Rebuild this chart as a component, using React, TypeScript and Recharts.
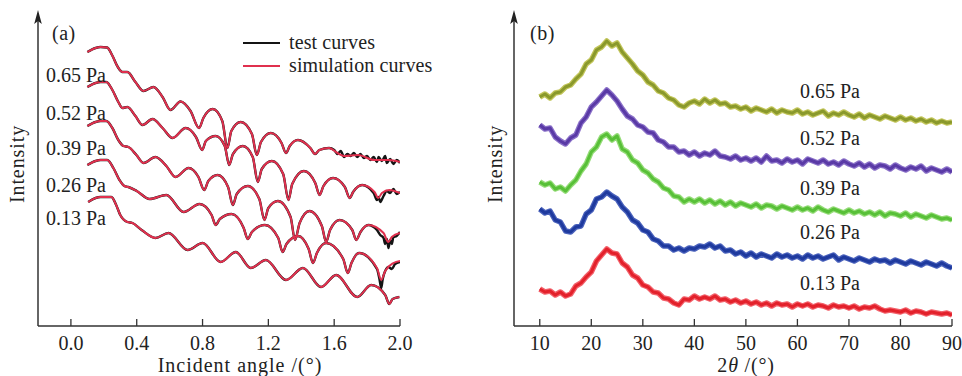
import React from 'react';
import { LineChart, Line, XAxis, YAxis, Legend } from 'recharts';

type Pt = [number, number];

const FONT = "'Liberation Serif', 'Times New Roman', serif";

const pressures = ['0.65 Pa', '0.52 Pa', '0.39 Pa', '0.26 Pa', '0.13 Pa'];
const xrrTicks = [0, 0.4, 0.8, 1.2, 1.6, 2.0];
const xrdTicks = [10, 20, 30, 40, 50, 60, 70, 80, 90];

// (a) simulated XRR curves: [incident angle (deg), intensity (a.u., offset)]
const sim065: Pt[] = [
  [0.1, 274], [0.15, 278], [0.18, 279], [0.22, 278.5], [0.25, 271], [0.285, 259], [0.313, 254], [0.343, 254],
  [0.392, 244], [0.441, 235], [0.502, 239], [0.557, 229], [0.605, 216], [0.666, 224.5], [0.727, 215], [0.779, 198],
  [0.805, 208], [0.862, 217], [0.92, 205], [0.951, 178], [0.975, 195], [1.032, 204], [1.1, 192], [1.13, 171],
  [1.155, 184], [1.215, 193], [1.28, 183], [1.307, 173], [1.33, 180], [1.38, 186], [1.455, 178], [1.484, 172],
  [1.51, 176], [1.569, 178], [1.62, 173], [1.66, 170], [1.746, 171], [1.843, 166], [1.93, 166], [2.0, 164],
];
const sim052: Pt[] = [
  [0.1, 239], [0.15, 243], [0.18, 244], [0.215, 244], [0.252, 236], [0.288, 224], [0.313, 218], [0.343, 219],
  [0.392, 210], [0.435, 201], [0.496, 207], [0.557, 198], [0.618, 188], [0.697, 198], [0.76, 189], [0.798, 176],
  [0.82, 185], [0.88, 190], [0.935, 180], [0.962, 161], [0.985, 172], [1.045, 180], [1.105, 169], [1.136, 144],
  [1.16, 157], [1.221, 165], [1.29, 152], [1.322, 126], [1.345, 142], [1.416, 155], [1.485, 143], [1.511, 131],
  [1.535, 140], [1.593, 148], [1.665, 139], [1.694, 128], [1.715, 134], [1.77, 141], [1.845, 134], [1.868, 128],
  [1.89, 133], [1.935, 136], [2.0, 133],
];
const sim039: Pt[] = [
  [0.1, 200], [0.15, 204], [0.18, 205], [0.215, 205], [0.252, 198], [0.288, 186], [0.319, 180], [0.349, 179],
  [0.398, 171], [0.441, 163], [0.514, 169], [0.58, 160], [0.636, 149], [0.715, 158], [0.775, 149], [0.81, 136],
  [0.835, 145], [0.892, 151], [0.955, 139], [0.984, 121], [1.008, 132], [1.075, 140], [1.145, 127], [1.176, 106],
  [1.2, 118], [1.258, 125], [1.335, 109], [1.362, 86], [1.39, 103], [1.45, 115], [1.525, 100], [1.551, 84],
  [1.575, 96], [1.633, 106], [1.71, 96], [1.734, 86], [1.76, 94], [1.807, 101], [1.9, 93], [1.929, 84],
  [1.95, 89], [2.0, 93],
];
const sim026: Pt[] = [
  [0.1, 161], [0.15, 165], [0.18, 166], [0.221, 166], [0.258, 158], [0.295, 146], [0.325, 140], [0.349, 139],
  [0.4, 135], [0.478, 127], [0.58, 131], [0.685, 114], [0.782, 122], [0.855, 111], [0.88, 101], [0.905, 107],
  [0.977, 112], [1.05, 98], [1.075, 87], [1.1, 94], [1.179, 101], [1.26, 88], [1.287, 74], [1.31, 82],
  [1.38, 90], [1.445, 77], [1.471, 63], [1.495, 73], [1.551, 83], [1.655, 67], [1.683, 53], [1.705, 63],
  [1.752, 73], [1.86, 58], [1.886, 46], [1.91, 55], [1.96, 63], [2.0, 65],
];
const sim013: Pt[] = [
  [0.105, 124], [0.15, 128], [0.18, 129], [0.246, 129], [0.275, 121], [0.3, 111], [0.343, 104], [0.374, 103],
  [0.43, 96], [0.514, 88], [0.593, 93], [0.709, 76], [0.801, 83], [0.91, 64], [1.002, 74], [1.093, 58],
  [1.185, 66], [1.307, 46], [1.41, 58], [1.52, 39], [1.612, 51], [1.74, 29], [1.825, 41], [1.91, 31],
  [1.935, 22], [1.955, 27], [1.996, 29],
];

// (a) measured points where the test curves show noise
const tail065: Pt[] = [
  [1.6, 176], [1.62, 172], [1.64, 175], [1.66, 169], [1.68, 172], [1.7, 170], [1.72, 173], [1.74, 169],
  [1.76, 172], [1.78, 168], [1.8, 170], [1.82, 166], [1.84, 169], [1.86, 164], [1.87, 169], [1.89, 165],
  [1.91, 170], [1.92, 163], [1.94, 167], [1.96, 162], [1.98, 166], [2.0, 163],
];
const tail052: Pt[] = [
  [1.84, 133], [1.86, 126], [1.87, 129], [1.88, 124], [1.9, 130], [1.92, 135], [1.94, 133], [1.96, 137],
  [1.98, 132], [2.0, 134],
];
const tail039: Pt[] = [
  [1.86, 96], [1.88, 91], [1.9, 88], [1.91, 82], [1.92, 87], [1.93, 78], [1.94, 86], [1.95, 82],
  [1.96, 89], [1.98, 90], [2.0, 94],
];
const tail026: Pt[] = [
  [1.86, 57], [1.875, 47], [1.886, 38], [1.895, 47], [1.91, 55], [1.93, 59], [1.95, 57], [1.97, 62], [2.0, 64],
];

// (b) XRD patterns, 2theta in degrees
const twoTheta = [
  10, 11, 12, 13, 14, 15, 16, 17, 18, 19, 20, 21, 22, 23, 24, 25, 26, 27, 28, 29,
  30, 31, 32, 33, 34, 35, 36, 37, 38, 39, 40, 41, 42, 43, 44, 45, 46, 47, 48, 49,
  50, 51, 52, 53, 54, 55, 56, 57, 58, 59, 60, 61, 62, 63, 64, 65, 66, 67, 68, 69,
  70, 71, 72, 73, 74, 75, 76, 77, 78, 79, 80, 81, 82, 83, 84, 85, 86, 87, 88, 89, 90,
];
const xrd065 = [
  229, 232, 228, 233, 234, 239, 241, 247, 252, 262, 266, 276, 279, 285, 280, 283, 274, 268, 262, 255,
  251, 244, 241, 235, 233, 228, 226, 221, 219, 223, 225, 222, 227, 223, 226, 222, 223, 219, 220, 217,
  219, 215, 218, 216, 214, 217, 213, 216, 214, 213, 216, 212, 214, 211, 213, 215, 210, 213, 211, 214,
  211, 209, 212, 208, 211, 209, 207, 210, 208, 206, 209, 206, 208, 205, 207, 204, 206, 203, 205, 203, 204,
];
const xrd052 = [
  201, 197, 198, 189, 185, 182, 188, 191, 203, 209, 219, 224, 230, 236, 231, 225, 217, 210, 207, 201,
  199, 194, 193, 186, 184, 179, 179, 174, 175, 171, 174, 170, 173, 171, 175, 170, 169, 167, 170, 166,
  168, 165, 168, 164, 170, 165, 166, 163, 167, 164, 166, 162, 167, 165, 163, 166, 162, 164, 161, 165,
  162, 160, 163, 159, 162, 158, 161, 160, 157, 161, 158, 156, 159, 157, 160, 155, 158, 156, 154, 157, 154,
];
const xrd039 = [
  144, 141, 143, 137, 139, 135, 141, 146, 155, 162, 174, 179, 189, 192, 186, 190, 177, 174, 166, 163,
  156, 153, 147, 144, 138, 136, 130, 129, 124, 127, 124, 127, 123, 126, 122, 125, 121, 124, 120, 123,
  121, 119, 122, 118, 121, 120, 117, 120, 118, 116, 119, 116, 118, 115, 119, 116, 114, 117, 115, 113,
  116, 113, 115, 112, 114, 111, 114, 110, 113, 112, 110, 113, 109, 112, 110, 108, 111, 109, 107, 108, 106,
];
const xrd026 = [
  117, 113, 115, 106, 104, 95, 94, 99, 100, 112, 116, 127, 129, 134, 130, 127, 119, 114, 106, 103,
  96, 94, 87, 85, 80, 80, 76, 78, 75, 78, 77, 80, 79, 82, 78, 80, 75, 76, 72, 74,
  70, 73, 69, 72, 70, 68, 72, 69, 71, 68, 70, 67, 71, 68, 70, 67, 69, 71, 66, 69,
  67, 65, 68, 66, 64, 67, 65, 66, 63, 66, 64, 62, 65, 63, 61, 64, 62, 60, 63, 60, 58,
];
const xrd013 = [
  37, 34, 35, 31, 34, 30, 32, 40, 43, 49, 54, 65, 71, 77, 73, 72, 63, 59, 51, 48,
  41, 39, 34, 33, 28, 27, 23, 21, 27, 26, 30, 27, 29, 27, 30, 26, 27, 24, 26, 23,
  25, 22, 24, 21, 23, 20, 23, 21, 22, 19, 22, 20, 22, 19, 21, 20, 18, 21, 19, 20,
  18, 20, 17, 19, 18, 20, 17, 15, 16, 15, 14, 16, 13, 15, 14, 12, 14, 13, 12, 13, 11,
];

const xrdColors = ['#8a992c', '#5a3aa6', '#58c038', '#1f3a9e', '#e3212b'];
const xrdHalo = ['#c2c55a', '#8a70c8', '#95dc78', '#4a62bc', '#f2606a'];
const xrdKeys = ['p065', 'p052', 'p039', 'p026', 'p013'];

const xrdRows = twoTheta.map((t, k) => ({
  t,
  p065: xrd065[k],
  p052: xrd052[k],
  p039: xrd039[k],
  p026: xrd026[k],
  p013: xrd013[k],
}));

const toRows = (pts: Pt[]) => pts.map(([a, i]) => ({ a, i }));
const withTail = (sim: Pt[], tail: Pt[]) => [...sim.filter((p) => p[0] < tail[0][0]), ...tail];

const xrrCurves = [
  { sim: sim065, test: withTail(sim065, tail065) },
  { sim: sim052, test: withTail(sim052, tail052) },
  { sim: sim039, test: withTail(sim039, tail039) },
  { sim: sim026, test: withTail(sim026, tail026) },
  { sim: sim013, test: sim013 },
];

const SIM_RED = '#e0304e';
const TEST_BLACK = '#141414';

const makeTick = (digits: number) => (props: any) => {
  const { x, y, payload } = props;
  return (
    <g>
      <line x1={x} y1={y} x2={x} y2={y - 7} stroke="#333" strokeWidth={1.3} />
      <text x={x} y={y + 17} textAnchor="middle" dominantBaseline="central" fontSize={20} fontFamily={FONT} fill="#222">
        {Number(payload.value).toFixed(digits)}
      </text>
    </g>
  );
};

const XrrLegend = () => (
  <div style={{ fontFamily: FONT, fontSize: 20, color: '#222', lineHeight: '23px' }}>
    {[
      { label: 'test curves', color: TEST_BLACK },
      { label: 'simulation curves', color: SIM_RED },
    ].map((it) => (
      <div key={it.label} style={{ display: 'flex', alignItems: 'center', whiteSpace: 'nowrap' }}>
        <svg width={37} height={4} style={{ marginRight: 9 }}>
          <line x1={0} y1={2} x2={37} y2={2} stroke={it.color} strokeWidth={2} />
        </svg>
        <span style={{ letterSpacing: 0.1 }}>{it.label}</span>
      </div>
    ))}
  </div>
);

const textStyle = { fontFamily: FONT, fontSize: 20, fill: '#222' } as const;

const Arrow = ({ x }: { x: number }) => (
  <g>
    <line x1={x} y1={326} x2={x} y2={20} stroke="#333" strokeWidth={1.5} />
    <polygon points={`${x},10 ${x - 3.8},24 ${x},21 ${x + 3.8},24`} fill="#222" />
  </g>
);

export default function App() {
  const labelYA = [75, 113, 148, 185, 218];
  const labelYB = [91, 138, 188, 232, 283];
  return (
    <div style={{ position: 'absolute', left: 0, top: 0, width: 962, height: 376, background: '#fff' }}>
      <div style={{ position: 'absolute', left: 0, top: 0 }}>
        <LineChart width={480} height={376} margin={{ top: 13, right: 80, bottom: 0, left: 38 }}>
          <XAxis
            dataKey="a"
            type="number"
            domain={[-0.2, 2]}
            ticks={xrrTicks}
            interval={0}
            allowDataOverflow
            height={50}
            tickSize={0}
            tickMargin={0}
            tickLine={false}
            axisLine={{ stroke: '#333', strokeWidth: 1.5 }}
            tick={makeTick(1)}
          />
          <YAxis hide type="number" domain={[0, 313]} allowDataOverflow />
          <Legend
            layout="vertical"
            align="center"
            verticalAlign="middle"
            content={() => <XrrLegend />}
            wrapperStyle={{ left: 243, top: 31, width: 220 }}
          />
          {xrrCurves.map((c, k) => (
            <Line
              key={'test' + k}
              data={toRows(c.test)}
              dataKey="i"
              type="monotone"
              stroke={TEST_BLACK}
              strokeWidth={2.4}
              dot={false}
              isAnimationActive={false}
              name="test curves"
              legendType={k === 0 ? 'line' : 'none'}
            />
          ))}
          {xrrCurves.map((c, k) => (
            <Line
              key={'sim' + k}
              data={toRows(c.sim)}
              dataKey="i"
              type="monotone"
              stroke={SIM_RED}
              strokeWidth={2}
              dot={false}
              isAnimationActive={false}
              name="simulation curves"
              legendType={k === 0 ? 'line' : 'none'}
            />
          ))}
        </LineChart>
      </div>
      <div style={{ position: 'absolute', left: 480, top: 0 }}>
        <LineChart width={482} height={376} data={xrdRows} margin={{ top: 13, right: 10, bottom: 0, left: 34 }}>
          <XAxis
            dataKey="t"
            type="number"
            domain={[5, 90]}
            ticks={xrdTicks}
            interval={0}
            allowDataOverflow
            height={50}
            tickSize={0}
            tickMargin={0}
            tickLine={false}
            axisLine={{ stroke: '#333', strokeWidth: 1.5 }}
            tick={makeTick(0)}
          />
          <YAxis hide type="number" domain={[0, 313]} allowDataOverflow />
          {xrdKeys.map((key, k) => (
            <Line
              key={key + 'halo'}
              dataKey={key}
              type="linear"
              stroke={xrdHalo[k]}
              strokeWidth={5.5}
              strokeLinejoin="round"
              dot={false}
              isAnimationActive={false}
              legendType="none"
            />
          ))}
          {xrdKeys.map((key, k) => (
            <Line
              key={key}
              dataKey={key}
              name={pressures[k]}
              type="linear"
              stroke={xrdColors[k]}
              strokeWidth={3}
              strokeLinejoin="round"
              dot={false}
              isAnimationActive={false}
            />
          ))}
        </LineChart>
      </div>
      <svg width={962} height={376} style={{ position: 'absolute', left: 0, top: 0, pointerEvents: 'none' }}>
        <Arrow x={38} />
        <Arrow x={514} />
        <text x={17} y={164} transform="rotate(-90 17 164)" textAnchor="middle" dominantBaseline="central" letterSpacing={0.9} {...textStyle}>
          Intensity
        </text>
        <text x={495} y={164} transform="rotate(-90 495 164)" textAnchor="middle" dominantBaseline="central" letterSpacing={0.9} {...textStyle}>
          Intensity
        </text>
        <text x={52} y={33} dominantBaseline="central" letterSpacing={0.5} {...textStyle}>(a)</text>
        <text x={530} y={33} dominantBaseline="central" letterSpacing={0.5} {...textStyle}>(b)</text>
        {pressures.map((p, k) => (
          <text key={'la' + k} x={46} y={labelYA[k]} dominantBaseline="central" {...textStyle}>{p}</text>
        ))}
        {pressures.map((p, k) => (
          <text key={'lb' + k} x={800} y={labelYB[k]} dominantBaseline="central" {...textStyle}>{p}</text>
        ))}
        <text x={240} y={365} textAnchor="middle" dominantBaseline="central" letterSpacing={1} {...textStyle}>
          Incident angle /(°)
        </text>
        <text x={746} y={365} textAnchor="middle" dominantBaseline="central" letterSpacing={0.8} {...textStyle}>
          2<tspan fontStyle="italic">θ</tspan> /(°)
        </text>
      </svg>
    </div>
  );
}
